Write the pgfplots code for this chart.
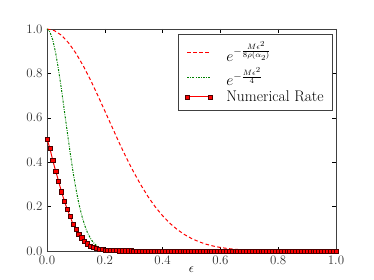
\RequirePackage{fix-cm}
\documentclass[border=0pt]{standalone}
\usepackage{pgfplots}
\usepackage{pgfplotstable}
\pgfplotsset{compat=1.18}
\pgfplotstableread{
x y
0.00 1.000
0.025 0.993
0.05 0.972
0.075 0.937
0.10 0.891
0.125 0.835
0.15 0.772
0.175 0.703
0.20 0.631
0.225 0.559
0.25 0.487
0.275 0.419
0.30 0.355
0.325 0.297
0.35 0.244
0.375 0.198
0.40 0.159
0.425 0.125
0.45 0.0974
0.475 0.0746
0.50 0.0564
0.525 0.0420
0.55 0.0308
0.575 0.0223
0.60 0.0159
0.625 0.0112
0.65 0.0078
0.675 0.0053
0.70 0.0036
0.725 0.0024
0.75 0.0016
0.775 0.0010
0.80 0.0006
0.85 0.0002
0.90 0.0001
0.95 0.0000
1.00 0.0000
}\redtab
\pgfplotstableread{
x y
0.00 1.000
0.01 0.987
0.02 0.950
0.03 0.892
0.04 0.816
0.05 0.728
0.06 0.633
0.07 0.537
0.08 0.444
0.09 0.357
0.10 0.281
0.11 0.215
0.12 0.161
0.13 0.117
0.14 0.0830
0.15 0.0574
0.16 0.0387
0.17 0.0255
0.18 0.0163
0.19 0.0102
0.20 0.0062
0.22 0.0021
0.24 0.0007
0.26 0.0002
0.30 0.0000
0.50 0.0000
1.00 0.0000
}\greentab
\pgfplotstableread{
x y
0.00 0.505
0.01 0.462
0.02 0.408
0.03 0.360
0.04 0.315
0.05 0.267
0.06 0.226
0.07 0.188
0.08 0.156
0.09 0.121
0.10 0.097
0.11 0.076
0.12 0.060
0.13 0.045
0.14 0.033
0.15 0.023
0.16 0.016
0.17 0.012
0.18 0.009
0.19 0.007
0.20 0.005
0.21 0.004
0.22 0.0032
0.23 0.0026
0.24 0.0021
0.25 0.0018
0.26 0.0015
0.27 0.0013
0.28 0.0011
0.29 0.0010
0.30 0.0009
0.31 0.0009
0.32 0.0008
0.33 0.0008
0.34 0.0007
0.35 0.0007
0.36 0.0007
0.37 0.0006
0.38 0.0006
0.39 0.0006
0.40 0.0006
0.41 0.0005
0.42 0.0005
0.43 0.0005
0.44 0.0005
0.45 0.0005
0.46 0.0005
0.47 0.0004
0.48 0.0004
0.49 0.0004
0.50 0.0004
0.51 0.0004
0.52 0.0004
0.53 0.0004
0.54 0.0004
0.55 0.0004
0.56 0.0003
0.57 0.0003
0.58 0.0003
0.59 0.0003
0.60 0.0003
0.61 0.0003
0.62 0.0003
0.63 0.0003
0.64 0.0003
0.65 0.0003
0.66 0.0003
0.67 0.0003
0.68 0.0003
0.69 0.0003
0.70 0.0003
0.71 0.0002
0.72 0.0002
0.73 0.0002
0.74 0.0002
0.75 0.0002
0.76 0.0002
0.77 0.0002
0.78 0.0002
0.79 0.0002
0.80 0.0002
0.81 0.0002
0.82 0.0002
0.83 0.0002
0.84 0.0002
0.85 0.0002
0.86 0.0002
0.87 0.0002
0.88 0.0002
0.89 0.0002
0.90 0.0002
0.91 0.0002
0.92 0.0002
0.93 0.0002
0.94 0.0002
0.95 0.0002
0.96 0.0002
0.97 0.0002
0.98 0.0002
0.99 0.0002
1.00 0.0002
}\numtab
\definecolor{mplgreen}{rgb}{0,0.5,0}
\begin{document}
\begin{tikzpicture}
\useasboundingbox (0,0) rectangle (374bp,280bp);
\begin{axis}[
  at={(47bp,29bp)}, anchor=south west,
  scale only axis, width=289bp, height=222bp,
  xmin=0, xmax=1, ymin=0, ymax=1,
  xtick={0,0.2,0.4,0.6,0.8,1.0},
  ytick={0,0.2,0.4,0.6,0.8,1.0},
  xticklabels={0.0,0.2,0.4,0.6,0.8,1.0},
  yticklabels={0.0,0.2,0.4,0.6,0.8,1.0},
  tick align=inside, tick pos=both,
  major tick length=4bp,
  tick style={black, line width=0.5bp},
  axis line style={black!75, line width=0.8bp},
  ticklabel style={font=\fontsize{13}{13}\selectfont, text=black!80},
  xticklabel style={yshift=-1bp},
  yticklabel style={xshift=-1bp},
  xlabel={$\epsilon$},
  xlabel style={font=\fontsize{13}{13}\selectfont, yshift=4bp},
  legend cell align=left,
  legend style={at={(rel axis cs:0.9896,0.977)}, anchor=north east,
    draw=black!75, line width=0.8bp, font=\fontsize{15.5}{17}\selectfont,
    inner xsep=7bp, inner ysep=5bp, row sep=0bp},
  legend image code/.code={\draw[#1] plot coordinates {(0bp,0bp) (23bp,0bp)};},
]
\addplot[color=red, line width=1bp, dash pattern=on 3.5bp off 2.5bp] table[x=x,y=y] {\redtab};
\addlegendentry{\hspace{12bp}$e^{-\frac{M\epsilon^2}{8\rho(\alpha_2)}}$}
\addplot[color=mplgreen, line width=1bp, dash pattern=on 2bp off 1.3bp on 0.7bp off 1.3bp] table[x=x,y=y] {\greentab};
\addlegendentry{\hspace{12bp}$e^{-\frac{M\epsilon^2}{4}}$}
\addplot[color=red, line width=1bp, mark=square*, mark size=2.1bp,
  mark options={solid, fill=red, draw=black!70!red, line width=0.4bp}] table[x=x,y=y] {\numtab};
\addlegendentry{\hspace{12bp}Numerical Rate\hspace{4bp}}
\end{axis}
\end{tikzpicture}
\end{document}
